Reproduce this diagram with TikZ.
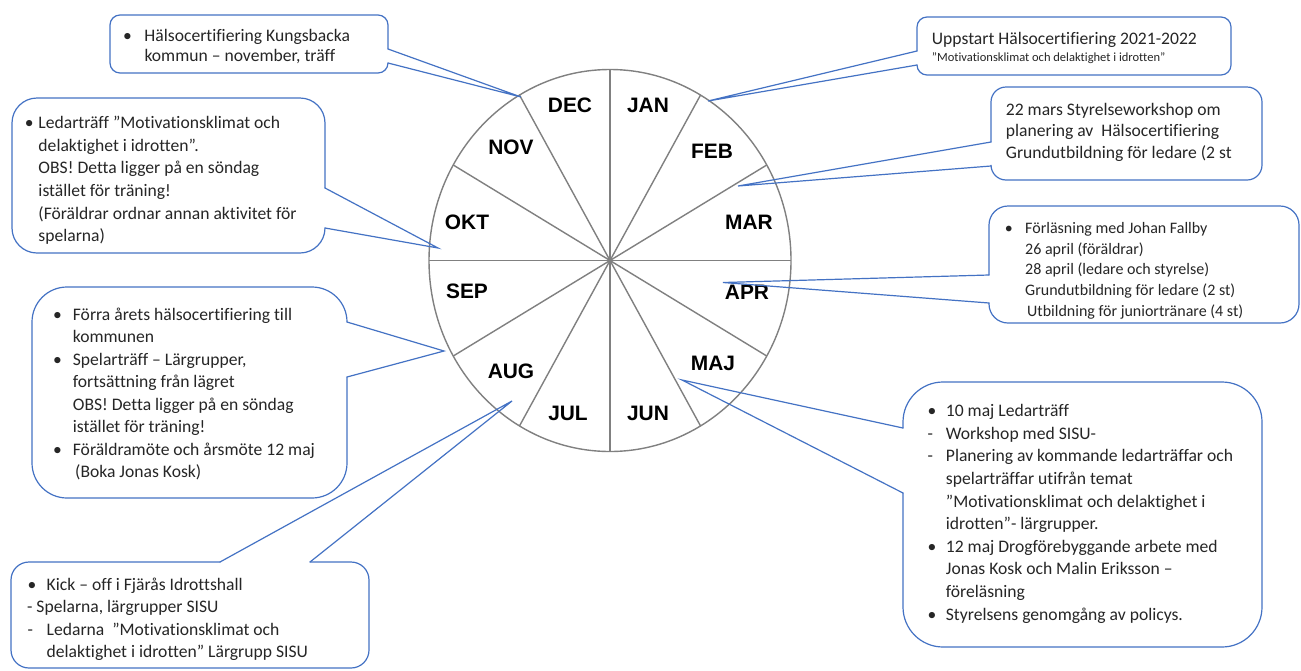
\documentclass[tikz,border=0pt]{standalone}
\usepackage{fontspec}
\setmainfont{Carlito}[Ligatures={TeX,NoCommon}]
\newfontfamily\monthfont{Liberation Sans}
\usetikzlibrary{calc}
\definecolor{clblue}{HTML}{4472C4}
\definecolor{wheelgray}{HTML}{808080}
\definecolor{txtgray}{HTML}{262626}
\newcommand\bu[2]{\makebox[#1pt][l]{•}#2}
\newcommand\da[2]{\makebox[#1pt][l]{-}#2}
\newcommand\co[2]{\hspace*{#1pt}#2}
% callout with tail on right edge: L T R B radius b1 b2 tip
\newcommand\clR[8]{%
  \draw[cl, rounded corners=#5pt] (#3,#7) -- (#3,#4) -- (#1,#4) -- (#1,#2) -- (#3,#2) -- (#3,#6);
  \draw[cl] (#3,#6) -- (#8) -- (#3,#7);}
% tail on left edge
\newcommand\clL[8]{%
  \draw[cl, rounded corners=#5pt] (#1,#6) -- (#1,#2) -- (#3,#2) -- (#3,#4) -- (#1,#4) -- (#1,#7);
  \draw[cl] (#1,#6) -- (#8) -- (#1,#7);}
% tail on top edge
\newcommand\clT[8]{%
  \draw[cl, rounded corners=#5pt] (#6,#2) -- (#1,#2) -- (#1,#4) -- (#3,#4) -- (#3,#2) -- (#7,#2);
  \draw[cl] (#6,#2) -- (#8) -- (#7,#2);}
% text lines: name x y0 skip list
\newcommand\tlines[5]{%
  \foreach \t [count=\i] in {#5}
    \node[txt, anchor=base west] (#1-\i) at (#2, {#3+(\i-1)*#4}) {\t};}
\begin{document}
\begin{tikzpicture}[x=1pt, y=-1pt,
  cl/.style={draw=clblue, line width=1.2pt, line cap=round},
  wheel/.style={draw=wheelgray, line width=1.4pt},
  month/.style={font=\monthfont\bfseries\fontsize{20.9}{24}\selectfont, text=black, inner sep=0pt},
  txt/.style={font=\fontsize{17.6}{21}\selectfont, text=txtgray, inner sep=0pt}]
\useasboundingbox (0,0) rectangle (1301,670);
\fill[white] (0,0) rectangle (1301,670);

% wheel
\coordinate (c) at (610,260.5);
\draw[wheel] (c) ellipse [x radius=181pt, y radius=191pt];
\foreach \a in {0,30,...,330}
  \draw[wheel] (c) -- ++(\a:181pt and 191pt);

\node[month] (dec) at (570,105) {DEC};
\node[month] (jan) at (648,105) {JAN};
\node[month] (feb) at (712,151) {FEB};
\node[month] (mar) at (749,222) {MAR};
\node[month] (apr) at (747,292) {APR};
\node[month] (maj) at (713,363) {MAJ};
\node[month] (jun) at (648,413) {JUN};
\node[month] (jul) at (568,413) {JUL};
\node[month] (aug) at (511,371) {AUG};
\node[month] (sep) at (467,291) {SEP};
\node[month] (okt) at (467,222) {OKT};
\node[month] (nov) at (511,147) {NOV};

% tips
\coordinate (t1) at (521,97);
\coordinate (t2) at (708,101);
\coordinate (t3) at (438,248);
\coordinate (t4) at (738,186);
\coordinate (t5) at (723,282.5);
\coordinate (t6) at (444,351);
\coordinate (t7) at (512,401);
\coordinate (t8) at (682,380);

% callouts
\clR{110}{15}{388}{73}{10}{49}{63}{t1}
\clL{917}{17}{1231}{75}{10}{51}{65}{t2}
\clR{12}{98}{325}{253}{25}{188}{228}{t3}
\clL{991}{87}{1262}{180}{15}{142}{166}{t4}
\clL{989}{206}{1299}{323}{19}{275}{303}{t5}
\clR{32}{287}{347}{498}{35}{322}{377}{t6}
\clT{11}{562}{369}{668}{18}{220}{310}{t7}
\clL{903}{382}{1262}{647}{40}{428}{493}{t8}

% texts
\tlines{a}{123}{41.7}{20}{{\bu{21.3}{Hälsocertifiering Kungsbacka}},{\co{21.3}{kommun – november, träff}}}
\node[txt, anchor=base west] (b-1) at (931.7,44) {Uppstart Hälsocertifiering 2021-2022};
\node[txt, anchor=base west, font=\fontsize{12.5}{15}\selectfont] (b-2) at (931.7,61) {”Motivationsklimat och delaktighet i idrotten”};
\tlines{c}{24.7}{128.3}{22.7}{{\bu{13.6}{Ledarträff ”Motivationsklimat och}},{\co{13.6}{delaktighet i idrotten”.}},{\co{13.6}{OBS! Detta ligger på en söndag}},{\co{13.6}{istället för träning!}},{\co{13.6}{(Föräldrar ordnar annan aktivitet för}},{\co{13.6}{spelarna)}}}
\tlines{d}{1005.7}{115}{21.7}{{22 mars Styrelseworkshop om},{planering av~ Hälsocertifiering},{Grundutbildning för ledare (2 st}}
\begin{scope}[txt/.style={font=\fontsize{16}{19}\selectfont, text=txtgray, inner sep=0pt}]
\tlines{e}{1004.6}{233.3}{20.8}{{\bu{20.4}{Förläsning med Johan Fallby}},{\co{20.4}{26 april (föräldrar)}},{\co{20.4}{28 april (ledare och styrelse)}},{\co{20.4}{Grundutbildning för ledare (2 st)}},{\co{22.4}{Utbildning för juniortränare (4 st)}}}
\end{scope}
\tlines{f}{53}{320}{22.5}{{\bu{19.7}{Förra årets hälsocertifiering till}},{\co{19.7}{kommunen}},{\bu{19.7}{Spelarträff – Lärgrupper,}},{\co{19.7}{fortsättning från lägret}},{\co{19.7}{OBS! Detta ligger på en söndag}},{\co{19.7}{istället för träning!}},{\bu{19.7}{Föräldramöte och årsmöte 12 maj}},{\co{22}{(Boka Jonas Kosk)}}}
\tlines{g}{27.3}{590}{22.6}{{\bu{19.2}{Kick – off i Fjärås Idrottshall}},{\co{-0.4}{- Spelarna, lärgrupper SISU}},{\da{19.2}{Ledarna~ ”Motivationsklimat och}},{\co{19.2}{delaktighet i idrotten” Lärgrupp SISU}}}
\tlines{h}{927.3}{416.7}{22.6}{{\bu{18.4}{10 maj Ledarträff}},{\da{18.4}{Workshop med SISU-}},{\da{18.4}{Planering av kommande ledarträffar och}},{\co{18.4}{spelarträffar utifrån temat}},{\co{18.4}{”Motivationsklimat och delaktighet i}},{\co{18.4}{idrotten”- lärgrupper.}},{\bu{18.4}{12 maj Drogförebyggande arbete med}},{\co{18.4}{Jonas Kosk och Malin Eriksson –}},{\co{18.4}{föreläsning}},{\bu{18.4}{Styrelsens genomgång av policys.}}}
\end{tikzpicture}
\end{document}
